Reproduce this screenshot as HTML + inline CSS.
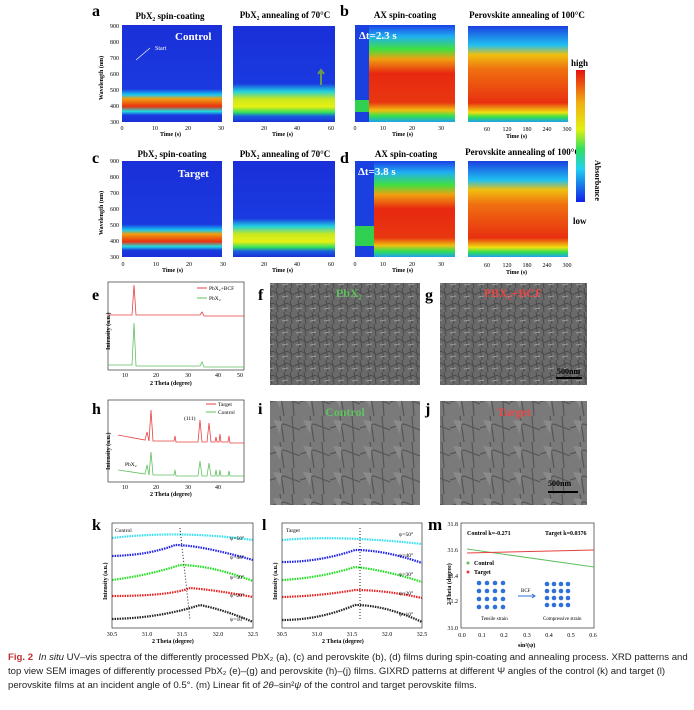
<!DOCTYPE html>
<html><head><style>
body{margin:0;background:#fff;width:694px;height:710px;overflow:hidden;font-family:"Liberation Serif",serif}
svg{display:block}
.cap{position:absolute;left:8px;top:651px;width:680px;font-family:"Liberation Sans",sans-serif;font-size:9.6px;line-height:14px;color:#222}
</style></head><body>
<svg width="694" height="650" viewBox="0 0 694 650" style="position:absolute;left:0;top:0">
<defs>
<linearGradient id="ga" x1="0" y1="0" x2="0" y2="1">
<stop offset="0" stop-color="#1a2fd8"/><stop offset="0.66" stop-color="#1a3ae0"/><stop offset="0.72" stop-color="#19c8f0"/><stop offset="0.76" stop-color="#f0a010"/><stop offset="0.84" stop-color="#e83010"/><stop offset="0.89" stop-color="#20e0e0"/><stop offset="0.93" stop-color="#1a3ae0"/><stop offset="1" stop-color="#1a2fd8"/></linearGradient>
<linearGradient id="gan" x1="0" y1="0" x2="0" y2="1">
<stop offset="0" stop-color="#1a2fd8"/><stop offset="0.6" stop-color="#1a3ae0"/><stop offset="0.68" stop-color="#20d0e0"/><stop offset="0.76" stop-color="#c8e820"/><stop offset="0.84" stop-color="#e8f010"/><stop offset="0.9" stop-color="#30e060"/><stop offset="0.94" stop-color="#1a60e0"/><stop offset="1" stop-color="#1a2fd8"/></linearGradient>
<linearGradient id="gb" x1="0" y1="0" x2="0" y2="1">
<stop offset="0" stop-color="#1a40e8"/><stop offset="0.12" stop-color="#20b0f0"/><stop offset="0.25" stop-color="#40e040"/><stop offset="0.35" stop-color="#f0a010"/><stop offset="0.5" stop-color="#e82810"/><stop offset="0.8" stop-color="#e83810"/><stop offset="0.88" stop-color="#f0c010"/><stop offset="0.94" stop-color="#30e050"/><stop offset="1" stop-color="#20a0f0"/></linearGradient>
<linearGradient id="gbn" x1="0" y1="0" x2="0" y2="1">
<stop offset="0" stop-color="#1a40e0"/><stop offset="0.2" stop-color="#20c0f0"/><stop offset="0.3" stop-color="#f0c010"/><stop offset="0.45" stop-color="#f07010"/><stop offset="0.8" stop-color="#e83010"/><stop offset="0.9" stop-color="#f0e010"/><stop offset="0.95" stop-color="#30e050"/><stop offset="1" stop-color="#20a0f0"/></linearGradient>
<linearGradient id="cb" x1="0" y1="0" x2="0" y2="1">
<stop offset="0" stop-color="#e81010"/><stop offset="0.25" stop-color="#f0b010"/><stop offset="0.45" stop-color="#e0f010"/><stop offset="0.6" stop-color="#30e060"/><stop offset="0.75" stop-color="#20d0f0"/><stop offset="1" stop-color="#1020e8"/></linearGradient>
<pattern id="sem1" width="14" height="12" patternUnits="userSpaceOnUse"><rect width="14" height="12" fill="#6a6a6a"/><path d="M0 6 L7 3 L14 7 M4 0 L6 12 M10 0 L12 12" stroke="#4a4a4a" stroke-width="1" fill="none"/><path d="M2 9 L8 8" stroke="#9a9a9a"/></pattern>
<pattern id="sem2" width="30" height="26" patternUnits="userSpaceOnUse"><rect width="30" height="26" fill="#7a7a7a"/><path d="M0 12 L14 8 L30 14 M10 0 L14 26 M22 0 L24 26" stroke="#555" stroke-width="1.2" fill="none"/><path d="M3 4 L12 5 L10 18 Z" fill="#8a8a8a"/></pattern>
</defs>
<g font-weight="bold" font-size="16"><text x="92" y="16">a</text><text x="340" y="16">b</text><text x="92" y="163">c</text><text x="340" y="163">d</text>
<text x="92" y="300">e</text><text x="258" y="300">f</text><text x="425" y="300">g</text><text x="92" y="414">h</text><text x="258" y="414">i</text><text x="425" y="414">j</text>
<text x="92" y="530">k</text><text x="262" y="530">l</text><text x="428" y="530" font-size="17">m</text></g>
<g font-size="9" font-weight="bold" text-anchor="middle">
<text x="170" y="19">PbX₂ spin-coating</text><text x="285" y="18">PbX₂ annealing of 70°C</text><text x="405" y="18">AX spin-coating</text><text x="527" y="18">Perovskite annealing of 100°C</text>
<text x="172" y="157">PbX₂ spin-coating</text><text x="285" y="157">PbX₂ annealing of 70°C</text><text x="406" y="157">AX spin-coating</text><text x="523" y="155">Perovskite annealing of 100°C</text></g>
<rect x="122" y="25" width="100" height="97" fill="url(#ga)"/>
<rect x="233" y="26" width="102" height="96" fill="url(#gan)"/>
<rect x="355" y="25" width="100" height="97" fill="url(#gb)"/><rect x="355" y="25" width="14" height="97" fill="#1a40e0"/><rect x="355" y="100" width="14" height="12" fill="#30d050"/>
<rect x="468" y="26" width="100" height="96" fill="url(#gbn)"/>
<rect x="122" y="161" width="100" height="96" fill="url(#ga)"/>
<rect x="233" y="161" width="102" height="96" fill="url(#gan)"/>
<rect x="355" y="161" width="100" height="96" fill="url(#gb)"/><rect x="355" y="161" width="19" height="96" fill="#1a40e0"/><rect x="355" y="226" width="19" height="20" fill="#30d050"/>
<rect x="468" y="161" width="100" height="96" fill="url(#gbn)"/>
<rect x="576" y="70" width="9" height="132" fill="url(#cb)"/>
<g font-size="9" font-weight="bold"><text x="571" y="66">high</text><text x="573" y="224">low</text><text x="595" y="160" transform="rotate(90 595 160)" font-size="8">Absorbance</text></g>
<g font-size="11" font-weight="bold" fill="#fff"><text x="175" y="40">Control</text><text x="178" y="177">Target</text><text x="359" y="39">Δt=2.3 s</text><text x="358" y="175">Δt=3.8 s</text></g>
<text x="155" y="50" font-size="6" fill="#fff">Start</text><line x1="150" y1="48" x2="136" y2="60" stroke="#fff" stroke-width="0.6"/>
<path d="M321 85 V70 M318 74 L321 70 L324 74" stroke="#6a9a50" stroke-width="2" fill="none"/>
<g font-size="6" text-anchor="end"><text x="119" y="28">900</text><text x="119" y="44">800</text><text x="119" y="60">700</text><text x="119" y="76">600</text><text x="119" y="92">500</text><text x="119" y="108">400</text><text x="119" y="124">300</text>
<text x="119" y="163">900</text><text x="119" y="179">800</text><text x="119" y="195">700</text><text x="119" y="211">600</text><text x="119" y="227">500</text><text x="119" y="243">400</text><text x="119" y="259">300</text></g>
<g font-size="6" font-weight="bold"><text x="103" y="100" transform="rotate(-90 103 100)">Wavelength (nm)</text><text x="103" y="235" transform="rotate(-90 103 235)">Wavelength (nm)</text>
<text x="160" y="136">Time (s)</text><text x="272" y="136">Time (s)</text><text x="392" y="136">Time (s)</text><text x="506" y="138">Time (s)</text>
<text x="162" y="272">Time (s)</text><text x="272" y="272">Time (s)</text><text x="392" y="272">Time (s)</text><text x="506" y="274">Time (s)</text></g>
<g font-size="6" text-anchor="middle"><text x="122" y="130">0</text><text x="155" y="130">10</text><text x="188" y="130">20</text><text x="221" y="130">30</text>
<text x="264" y="130">20</text><text x="297" y="130">40</text><text x="331" y="130">60</text>
<text x="355" y="130">0</text><text x="383" y="130">10</text><text x="412" y="130">20</text><text x="441" y="130">30</text>
<text x="487" y="131">60</text><text x="507" y="131">120</text><text x="527" y="131">180</text><text x="547" y="131">240</text><text x="567" y="131">300</text>
<text x="123" y="266">0</text><text x="156" y="266">10</text><text x="189" y="266">20</text><text x="223" y="266">30</text>
<text x="264" y="266">20</text><text x="297" y="266">40</text><text x="331" y="266">60</text>
<text x="355" y="266">0</text><text x="383" y="266">10</text><text x="412" y="266">20</text><text x="441" y="266">30</text>
<text x="487" y="267">60</text><text x="507" y="267">120</text><text x="527" y="267">180</text><text x="547" y="267">240</text><text x="567" y="267">300</text></g>
<rect x="108" y="282" width="136" height="88" fill="none" stroke="#333" stroke-width="0.7"/>
<path d="M108 315 H132 L134 285 L136 315 H200 L202 312 L204 316 H244" stroke="#e84040" fill="none" stroke-width="0.8"/>
<path d="M108 365 H132 L134 323 L136 366 H200 L202 362 L204 367 H244" stroke="#60c060" fill="none" stroke-width="0.8"/>
<line x1="197" y1="288" x2="207" y2="288" stroke="#e84040"/><line x1="197" y1="298" x2="207" y2="298" stroke="#60c060"/>
<g font-size="5.5"><text x="209" y="290">PbX₂+BCF</text><text x="209" y="300">PbX₂</text></g>
<g font-size="6" text-anchor="middle"><text x="125" y="377">10</text><text x="156" y="377">20</text><text x="188" y="377">30</text><text x="218" y="377">40</text><text x="240" y="377">50</text>
<text x="125" y="489">10</text><text x="156" y="489">20</text><text x="188" y="489">30</text><text x="218" y="489">40</text></g>
<g font-size="6" font-weight="bold"><text x="150" y="385">2 Theta (degree)</text><text x="150" y="496">2 Theta (degree)</text>
<text x="110" y="350" transform="rotate(-90 110 350)">Intensity (a.u.)</text><text x="110" y="470" transform="rotate(-90 110 470)">Intensity (a.u.)</text></g>
<rect x="108" y="400" width="136" height="82" fill="none" stroke="#333" stroke-width="0.7"/>
<path d="M118 435 L145 440 L147 432 L149 441 L151 410 L153 441 L174 441 L175 436 L176 442 L198 442 L200 420 L202 442 L207 442 L209 423 L211 442 L215 442 L216 437 L217 442 L219 442 L220 434 L221 442 L228 442 L229 436 L230 443 L244 443" stroke="#e84040" fill="none" stroke-width="0.8"/>
<path d="M118 470 L145 474 L147 465 L149 475 L151 452 L153 475 L174 475 L175 470 L176 476 L198 476 L200 461 L202 476 L207 476 L209 463 L211 476 L215 476 L216 470 L217 476 L219 476 L220 470 L221 476 L228 476 L229 471 L230 476 L244 476" stroke="#60c060" fill="none" stroke-width="0.8"/>
<line x1="206" y1="404" x2="216" y2="404" stroke="#e84040"/><line x1="206" y1="412" x2="216" y2="412" stroke="#60c060"/>
<g font-size="5.5"><text x="218" y="406">Target</text><text x="218" y="414">Control</text><text x="184" y="420">(111)</text><text x="125" y="466">PbX₂</text></g>
<rect x="270" y="283" width="150" height="102" fill="url(#sem1)"/><rect x="440" y="283" width="147" height="102" fill="url(#sem1)"/>
<rect x="270" y="401" width="150" height="104" fill="url(#sem2)"/><rect x="440" y="401" width="147" height="104" fill="url(#sem2)"/>
<g font-size="12" font-weight="bold" text-anchor="middle"><text x="349" y="297" fill="#60c060">PbX₂</text><text x="513" y="297" fill="#e84848">PBX₂+BCF</text><text x="345" y="416" fill="#60c060">Control</text><text x="514" y="416" fill="#e84848">Target</text></g>
<g font-size="8" font-weight="bold"><text x="557" y="374">500nm</text><text x="548" y="486">500nm</text></g>
<rect x="556" y="377" width="26" height="2"/><rect x="548" y="491" width="30" height="2"/>
<g stroke-width="2.2" fill="none" stroke-dasharray="1.5 1">
<path d="M112 538 Q180 530 253 540" stroke="#30e0f0"/><path d="M112 556 Q150 555 175 545 Q200 545 253 560" stroke="#2020e8"/><path d="M112 580 Q150 575 180 565 Q210 565 253 581" stroke="#20e020"/><path d="M112 596 Q170 596 190 588 Q215 590 253 597" stroke="#e82020"/><path d="M112 619 Q160 618 200 605 Q225 610 253 622" stroke="#222"/>
<path d="M282 540 Q340 535 422 544 " stroke="#30e0f0"/><path d="M282 562 Q320 562 355 550 Q385 550 422 563" stroke="#2020e8"/><path d="M282 580 Q320 578 355 567 Q385 570 422 582" stroke="#20e020"/><path d="M282 597 Q320 596 355 590 Q385 590 422 598" stroke="#e82020"/><path d="M282 620 Q320 620 355 605 Q385 605 422 622" stroke="#222"/></g>
<rect x="112" y="523" width="141" height="105" fill="none" stroke="#333" stroke-width="0.7"/>
<rect x="282" y="523" width="140" height="105" fill="none" stroke="#333" stroke-width="0.7"/>
<path d="M180 528 L190 620" stroke="#222" stroke-dasharray="1 2"/><path d="M360 528 V620" stroke="#222" stroke-dasharray="1 2"/>
<g font-size="5.5"><text x="115" y="532">Control</text><text x="286" y="532">Target</text>
<text x="230" y="540">ψ=50°</text><text x="230" y="559">ψ=40°</text><text x="230" y="579">ψ=30°</text><text x="230" y="597">ψ=20°</text><text x="230" y="621">ψ=10°</text>
<text x="399" y="536">ψ=50°</text><text x="399" y="557">ψ=40°</text><text x="399" y="576">ψ=30°</text><text x="399" y="595">ψ=20°</text><text x="399" y="616">ψ=10°</text></g>
<g font-size="6" text-anchor="middle"><text x="112" y="636">30.5</text><text x="147" y="636">31.0</text><text x="182" y="636">31.5</text><text x="218" y="636">32.0</text><text x="253" y="636">32.5</text>
<text x="282" y="636">30.5</text><text x="317" y="636">31.0</text><text x="352" y="636">31.5</text><text x="387" y="636">32.0</text><text x="422" y="636">32.5</text>
<text x="462" y="637">0.0</text><text x="482" y="637">0.1</text><text x="504" y="637">0.2</text><text x="527" y="637">0.3</text><text x="549" y="637">0.4</text><text x="571" y="637">0.5</text><text x="593" y="637">0.6</text></g>
<g font-size="6" font-weight="bold"><text x="152" y="643">2 Theta (degree)</text><text x="322" y="643">2 Theta (degree)</text><text x="518" y="647">sin²(ψ)</text>
<text x="107" y="600" transform="rotate(-90 107 600)">Intensity (a.u.)</text><text x="277" y="600" transform="rotate(-90 277 600)">Intensity (a.u.)</text><text x="451" y="605" transform="rotate(-90 451 605)">2 Theta (degree)</text></g>
<rect x="461" y="523" width="133" height="105" fill="none" stroke="#333" stroke-width="0.7"/>
<g font-size="6" text-anchor="end"><text x="458" y="526">31.8</text><text x="458" y="552">31.6</text><text x="458" y="578">31.4</text><text x="458" y="603">31.2</text><text x="458" y="630">31.0</text></g>
<line x1="467" y1="549" x2="594" y2="567" stroke="#60c060"/><line x1="467" y1="553" x2="594" y2="550" stroke="#e84040"/>
<g font-size="6" font-weight="bold"><text x="467" y="535">Control k=-0.271</text><text x="545" y="535">Target k=0.0376</text><text x="474" y="565">Control</text><text x="474" y="574">Target</text></g>
<circle cx="468" cy="563" r="1.5" fill="#60c060"/><circle cx="468" cy="572" r="1.5" fill="#e84040"/>
<g fill="#2f6fd8"><circle cx="479" cy="583" r="2.3"/><circle cx="487" cy="583" r="2.3"/><circle cx="495" cy="583" r="2.3"/><circle cx="503" cy="583" r="2.3"/><circle cx="479" cy="591" r="2.3"/><circle cx="487" cy="591" r="2.3"/><circle cx="495" cy="591" r="2.3"/><circle cx="503" cy="591" r="2.3"/><circle cx="479" cy="599" r="2.3"/><circle cx="487" cy="599" r="2.3"/><circle cx="495" cy="599" r="2.3"/><circle cx="503" cy="599" r="2.3"/><circle cx="479" cy="607" r="2.3"/><circle cx="487" cy="607" r="2.3"/><circle cx="495" cy="607" r="2.3"/><circle cx="503" cy="607" r="2.3"/>
<circle cx="547" cy="584" r="2.3"/><circle cx="554" cy="584" r="2.3"/><circle cx="561" cy="584" r="2.3"/><circle cx="568" cy="584" r="2.3"/><circle cx="547" cy="591" r="2.3"/><circle cx="554" cy="591" r="2.3"/><circle cx="561" cy="591" r="2.3"/><circle cx="568" cy="591" r="2.3"/><circle cx="547" cy="598" r="2.3"/><circle cx="554" cy="598" r="2.3"/><circle cx="561" cy="598" r="2.3"/><circle cx="568" cy="598" r="2.3"/><circle cx="547" cy="605" r="2.3"/><circle cx="554" cy="605" r="2.3"/><circle cx="561" cy="605" r="2.3"/><circle cx="568" cy="605" r="2.3"/></g>
<path d="M518 596 H535 M532 594 L535 596 L532 598" stroke="#2f6fd8" fill="none"/>
<g font-size="5"><text x="521" y="592">BCF</text><text x="481" y="620">Tensile strain</text><text x="543" y="620">Compressive strain</text></g>
</svg>
<div class="cap"><b style="color:#c03030">Fig. 2</b> &nbsp;<i>In situ</i> UV–vis spectra of the differently processed PbX₂ (a), (c) and perovskite (b), (d) films during spin-coating and annealing process. XRD patterns and top view SEM images of differently processed PbX₂ (e)–(g) and perovskite (h)–(j) films. GIXRD patterns at different Ψ angles of the control (k) and target (l) perovskite films at an incident angle of 0.5°. (m) Linear fit of <i>2θ</i>–sin²<i>ψ</i> of the control and target perovskite films.</div>
</body></html>
